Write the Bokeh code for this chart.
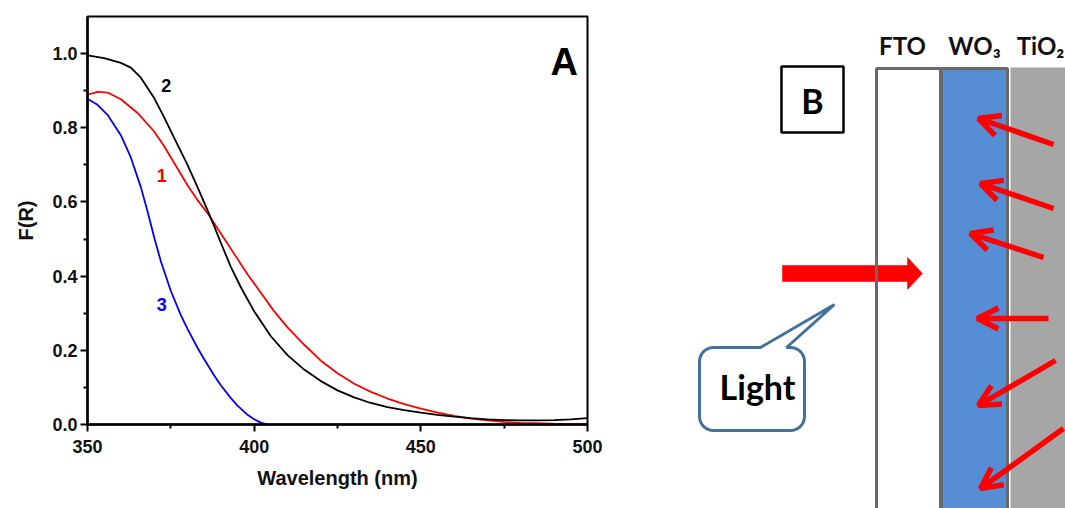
import numpy as np
from bokeh.plotting import figure
from bokeh.layouts import row, column
from bokeh.models import Range1d, FixedTicker, Arrow, OpenHead, Label, PrintfTickFormatter
from bokeh.embed import file_html
from bokeh.resources import INLINE

# ---------------- Panel A data ----------------
curve1_x = [350, 353, 356, 360, 365, 370, 373, 376, 380, 383, 386, 390, 394, 398, 402, 406, 410,
            415, 420, 425, 430, 435, 440, 445, 450, 455, 460, 465, 470, 475, 480, 490, 500]
curve1_y = [0.889, 0.897, 0.895, 0.877, 0.84, 0.79, 0.75, 0.705, 0.645, 0.605, 0.57, 0.515, 0.46,
            0.405, 0.355, 0.305, 0.262, 0.215, 0.172, 0.138, 0.11, 0.088, 0.07, 0.055, 0.043,
            0.032, 0.023, 0.016, 0.011, 0.007, 0.004, 0.002, 0.001]

curve2_x = [350, 355, 360, 363, 366, 370, 373, 376, 380, 383, 386, 388, 390, 393, 396, 400, 405,
            410, 415, 420, 425, 430, 435, 440, 445, 450, 455, 460, 465, 470, 475, 480, 485, 490,
            495, 500]
curve2_y = [0.995, 0.988, 0.975, 0.962, 0.935, 0.88, 0.828, 0.773, 0.70, 0.64, 0.578, 0.535, 0.49,
            0.425, 0.37, 0.305, 0.238, 0.187, 0.148, 0.117, 0.092, 0.073, 0.058, 0.047, 0.039,
            0.032, 0.026, 0.021, 0.017, 0.014, 0.012, 0.011, 0.011, 0.012, 0.014, 0.017]

curve3_x = [350, 353, 356, 360, 363, 366, 368, 370, 372, 375, 378, 380, 383, 385, 388, 390, 393,
            395, 398, 400, 402, 404]
curve3_y = [0.878, 0.862, 0.835, 0.78, 0.72, 0.64, 0.575, 0.505, 0.44, 0.36, 0.295, 0.258, 0.207,
            0.176, 0.132, 0.106, 0.071, 0.051, 0.026, 0.014, 0.005, 0.0]

curve_names = ["1", "2", "3"]
curve_colors = ["#ff0000", "#000000", "#0000ff"]
curve_label_x = [372.3, 373.6, 372.3]
curve_label_y = [0.67, 0.913, 0.324]

x_ticks = [350, 400, 450, 500]
x_minor = [375, 425, 475]
y_ticks = [0.0, 0.2, 0.4, 0.6, 0.8, 1.0]
y_minor = [0.1, 0.3, 0.5, 0.7, 0.9]

# ---------------- Panel B schematic ----------------
layer_names = ["FTO", "WO₃", "TiO₂"]
layer_left = [876, 941, 1010]
layer_right = [940, 1007, 1075]
layer_fill = ["#ffffff", "#558ed5", "#a6a6a6"]
layer_label_x = [902, 974, 1040]
layer_top = 68
layer_bottom = 520

arrow_tail_x = [1053, 1053, 1043, 1048, 1055, 1063]
arrow_tail_y = [144, 208, 257, 318, 360, 428]
arrow_tip_x = [978, 980, 970, 977, 978, 980]
arrow_tip_y = [118, 183, 233, 318, 405, 488]

light_arrow_x = [782, 907, 907, 922, 907, 907, 782]
light_arrow_y = [265, 265, 257, 273, 289, 281, 281]

FONT = "Liberation Sans"

# ---------------- Panel A figure ----------------
pA = figure(frame_width=500, frame_height=408,
            x_range=Range1d(350, 500), y_range=Range1d(0, 1.1),
            output_backend="svg", toolbar_location=None,
            min_border_left=87, min_border_right=53, min_border_top=16, min_border_bottom=84)
pA.xgrid.visible = False
pA.ygrid.visible = False
pA.outline_line_color = "#000000"
pA.outline_line_width = 2
pA.background_fill_color = "white"
pA.border_fill_color = "white"

for xs, ys, c in zip([curve1_x, curve2_x, curve3_x], [curve1_y, curve2_y, curve3_y], curve_colors):
    pA.line(xs, ys, line_color=c, line_width=1.8)

pA.xaxis.ticker = FixedTicker(ticks=x_ticks, minor_ticks=x_minor)
pA.yaxis.ticker = FixedTicker(ticks=y_ticks, minor_ticks=y_minor)
pA.yaxis.formatter = PrintfTickFormatter(format="%.1f")
for ax in (pA.xaxis, pA.yaxis):
    ax.axis_line_width = 2.5
    ax.axis_line_color = "#000000"
    ax.major_tick_line_width = 2
    ax.minor_tick_line_width = 2
    ax.major_tick_line_color = "#000000"
    ax.minor_tick_line_color = "#000000"
    ax.major_tick_out = 7
    ax.major_tick_in = 0
    ax.minor_tick_out = 4
    ax.minor_tick_in = 0
    ax.major_label_text_font = FONT
    ax.major_label_text_font_style = "bold"
    ax.major_label_text_font_size = "18px"
    ax.major_label_text_color = "#111111"
    ax.axis_label_text_font = FONT
    ax.axis_label_text_font_style = "bold"
    ax.axis_label_text_font_size = "20px"
    ax.axis_label_text_color = "#111111"
pA.xaxis.axis_label = "Wavelength (nm)"
pA.yaxis.axis_label = "F(R)"
pA.xaxis.major_label_standoff = 8
pA.yaxis.major_label_standoff = 3
pA.xaxis.axis_label_standoff = 11
pA.yaxis.axis_label_standoff = 12

for name, c, lx, ly in zip(curve_names, curve_colors, curve_label_x, curve_label_y):
    pA.add_layout(Label(x=lx, y=ly, text=name, text_color=c, text_font=FONT,
                        text_font_style="bold", text_font_size="18px",
                        text_align="center", text_baseline="middle"))
pA.add_layout(Label(x=493.0, y=0.978, text="A", text_color="#000000", text_font=FONT,
                    text_font_style="bold", text_font_size="38px",
                    text_align="center", text_baseline="middle"))

# ---------------- Panel B figure ----------------
pB = figure(width=425, height=508, x_range=Range1d(640, 1065), y_range=Range1d(508, 0),
            output_backend="svg", toolbar_location=None,
            x_axis_location=None, y_axis_location=None,
            min_border_left=0, min_border_right=0, min_border_top=0, min_border_bottom=0)
pB.xgrid.visible = False
pB.ygrid.visible = False
pB.outline_line_color = None

BORDER = "#696969"
pB.quad(left=[layer_left[2]], right=[layer_right[2]], top=[layer_top - 1], bottom=[layer_bottom],
        fill_color=layer_fill[2], line_color=None)
pB.quad(left=[layer_left[1]], right=[layer_right[1]], top=[layer_top], bottom=[layer_bottom],
        fill_color=layer_fill[1], line_color=BORDER, line_width=3)
pB.quad(left=[layer_left[0]], right=[layer_right[0]], top=[layer_top], bottom=[layer_bottom],
        fill_color=layer_fill[0], line_color=None)
pB.patch(light_arrow_x, light_arrow_y, fill_color="#ff0000", line_color="#ff0000", line_width=0.5)
pB.quad(left=[layer_left[0]], right=[layer_right[0]], top=[layer_top], bottom=[layer_bottom],
        fill_color=None, line_color=BORDER, line_width=3)

for name, lx in zip(layer_names, layer_label_x):
    pB.add_layout(Label(x=lx, y=45, text=name, text_color="#111111", text_font="Lato",
                        text_font_style="bold", text_font_size="24px",
                        text_align="center", text_baseline="middle"))

pB.quad(left=[781], right=[843], top=[66], bottom=[132], fill_color="white",
        line_color="#000000", line_width=2.5)
pB.add_layout(Label(x=812, y=100, text="B", text_color="#000000", text_font="Lato",
                    text_font_style="bold", text_font_size="34px",
                    text_align="center", text_baseline="middle"))

for x0, y0, x1, y1 in zip(arrow_tail_x, arrow_tail_y, arrow_tip_x, arrow_tip_y):
    pB.add_layout(Arrow(x_start=x0, y_start=y0, x_end=x1, y_end=y1,
                        line_color="#ff0000", line_width=5.5,
                        end=OpenHead(size=21, line_color="#ff0000", line_width=5.5)))

def callout_path(l, r, t, b, rad, tail):
    px, py = [], []
    def arc(cx, cy, a0, a1):
        for a in np.linspace(np.radians(a0), np.radians(a1), 10):
            px.append(cx + rad * np.cos(a))
            py.append(cy - rad * np.sin(a))
    arc(l + rad, t + rad, 180, 90)
    for tx, ty in tail:
        px.append(tx)
        py.append(ty)
    arc(r - rad, t + rad, 90, 0)
    arc(r - rad, b - rad, 0, -90)
    arc(l + rad, b - rad, -90, -180)
    px.append(px[0])
    py.append(py[0])
    return px, py

cx, cy = callout_path(699, 804, 347, 430, 14, [(760, 347), (834, 304), (786, 347)])
pB.patch(cx, cy, fill_color="white", line_color="#41719c", line_width=3)
pB.add_layout(Label(x=757, y=386, text="Light", text_color="#000000", text_font="Lato",
                    text_font_style="bold", text_font_size="34px",
                    text_align="center", text_baseline="middle"))

layout = row(column(pA), column(pB))
open("out.html", "w").write(file_html(layout, INLINE))
